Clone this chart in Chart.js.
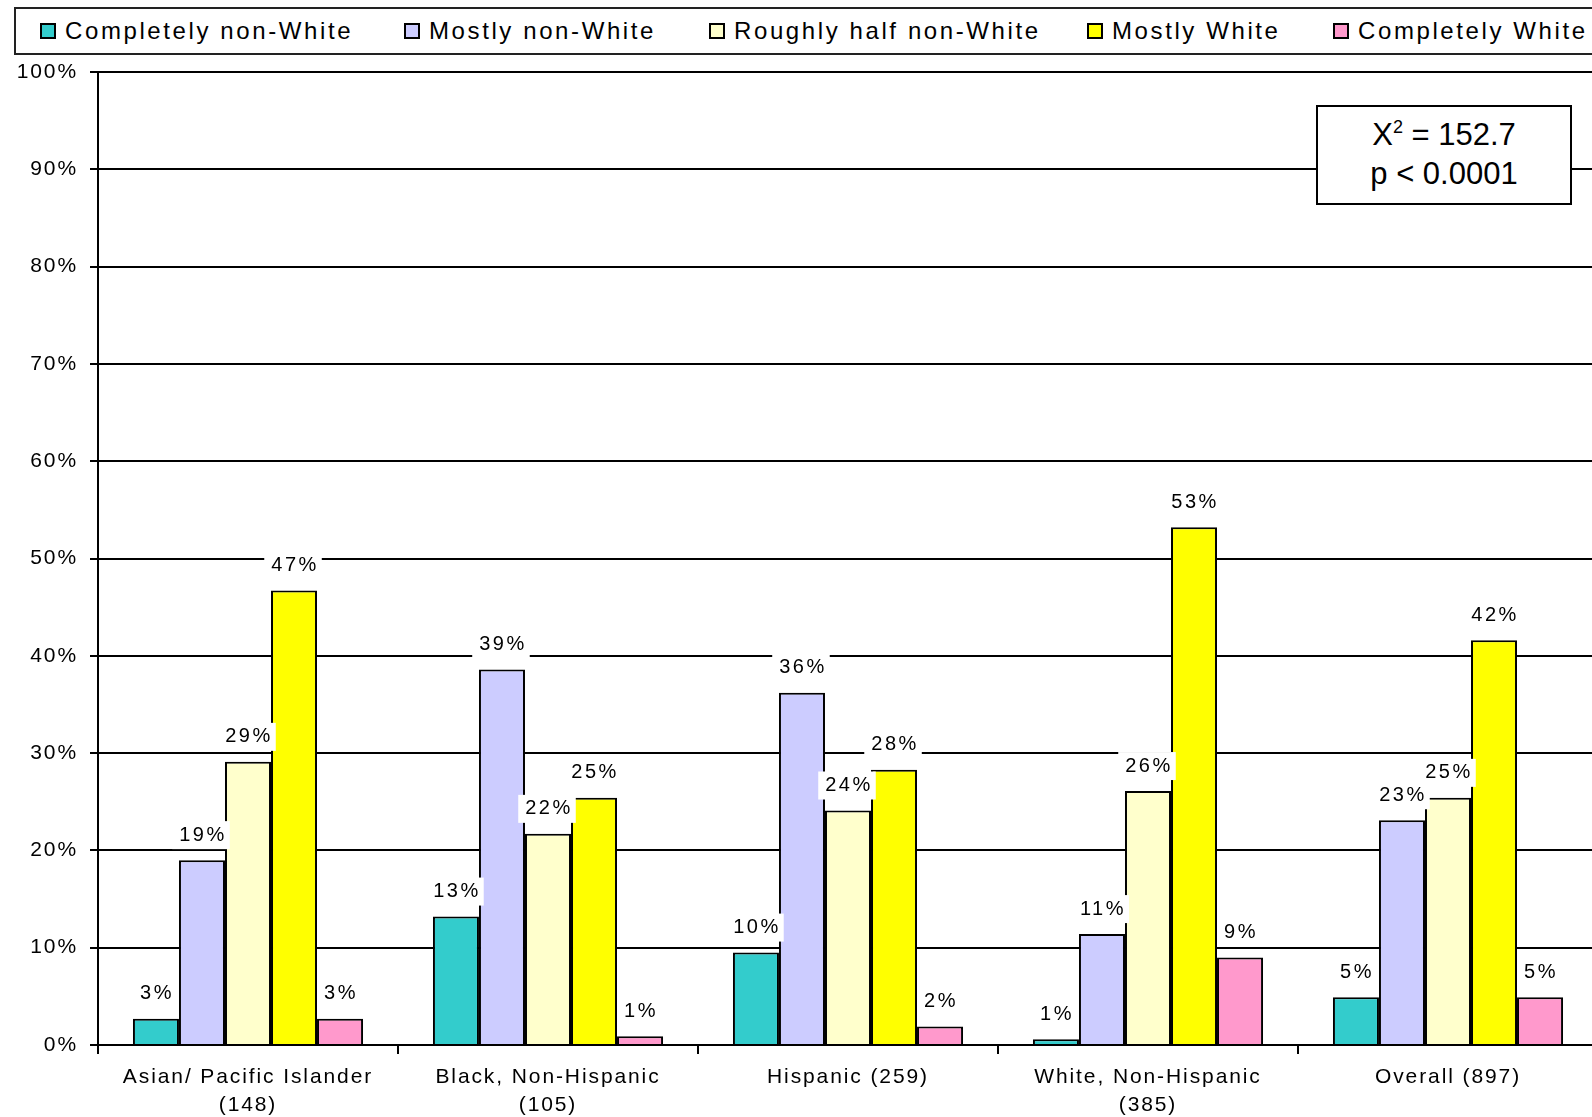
<!DOCTYPE html>
<html lang="en">
<head>
    <meta charset="UTF-8">
    <title>Neighborhood racial composition by respondent race</title>
    <script src="https://cdn.jsdelivr.net/npm/chart.js"></script>
    <style>
        body {
            margin: 0;
            padding: 0;
            background: #fff;
            overflow: hidden;
            font-family: "Liberation Sans", Arial, sans-serif;
        }
        .wrap {
            position: absolute;
            left: 0;
            top: 0;
            width: 1600px;
            height: 1117px;
        }
        .legend {
            position: absolute;
            left: 14px;
            top: 7px;
            width: 1620px;
            height: 44px;
            border: 2px solid #222;
            background: #fff;
        }
        .legend .item {
            position: absolute;
            top: 0;
            height: 44px;
            display: flex;
            align-items: center;
            font-size: 24px;
            letter-spacing: 2.6px;
            color: #000;
            white-space: nowrap;
        }
        .legend .swatch {
            width: 12px;
            height: 12px;
            border: 2px solid #000;
            margin-right: 9px;
        }
        .stat-box {
            position: absolute;
            left: 1316px;
            top: 105px;
            width: 252px;
            height: 88px;
            border: 2px solid #000;
            background: #fff;
            font-size: 31px;
            line-height: 39px;
            text-align: center;
            padding-top: 8px;
            box-sizing: content-box;
        }
        .stat-box sup { font-size: 18px; vertical-align: 12px; line-height: 0; }
    </style>
</head>
<body>
<div class="wrap">
    <canvas id="chart" width="1600" height="1117"></canvas>
    <div class="legend" id="legend"></div>
    <div class="stat-box">X<sup>2</sup> = 152.7<br>p &lt; 0.0001</div>
</div>

<script>
    // data (percent)
    const categories = [
        ['Asian/ Pacific Islander', '(148)'],
        ['Black, Non-Hispanic', '(105)'],
        'Hispanic (259)',
        ['White, Non-Hispanic', '(385)'],
        'Overall (897)'
    ];
    const seriesNames = ['Completely non-White', 'Mostly non-White', 'Roughly half non-White', 'Mostly White', 'Completely White'];
    const completelyNonWhite = [2.7, 13.2, 9.5, 0.6, 4.9];
    const mostlyNonWhite = [19.0, 38.6, 36.2, 11.4, 23.1];
    const roughlyHalfNonWhite = [29.1, 21.7, 24.1, 26.1, 25.4];
    const mostlyWhite = [46.7, 25.4, 28.3, 53.2, 41.6];
    const completelyWhite = [2.7, 0.9, 1.9, 9.0, 4.9];
    const yTicks = [0, 10, 20, 30, 40, 50, 60, 70, 80, 90, 100];

    const colors = ['#33CCCC', '#CCCCFF', '#FFFFCC', '#FFFF00', '#FF99CC'];
    const seriesValues = [completelyNonWhite, mostlyNonWhite, roughlyHalfNonWhite, mostlyWhite, completelyWhite];

    // html legend
    const legendLefts = [38, 402, 707, 1085, 1331];
    const legendEl = document.getElementById('legend');
    seriesNames.forEach((name, i) => {
        const item = document.createElement('div');
        item.className = 'item';
        item.style.left = (legendLefts[i] - 14) + 'px';
        item.innerHTML = '<span class="swatch" style="background:' + colors[i] + '"></span>' + name;
        legendEl.appendChild(item);
    });

    const AXIS_FONT = { family: '"Liberation Sans", Arial, sans-serif', size: 21, lineHeight: 1.33 };
    const SPACING = '1.9px';

    // wider text spacing like the original bitmap font
    const spacing = {
        id: 'spacing',
        beforeUpdate(chart) { chart.ctx.letterSpacing = SPACING; },
        beforeDraw(chart) { chart.ctx.letterSpacing = SPACING; }
    };

    // value labels with white boxes above each bar
    const valueLabels = {
        id: 'valueLabels',
        afterDatasetsDraw(chart) {
            const ctx = chart.ctx;
            ctx.save();
            ctx.letterSpacing = '2.5px';
            ctx.font = '20px "Liberation Sans", Arial, sans-serif';
            ctx.textAlign = 'center';
            ctx.textBaseline = 'middle';
            chart.data.datasets.forEach((ds, i) => {
                chart.getDatasetMeta(i).data.forEach((bar, j) => {
                    const txt = Math.round(ds.data[j]) + '%';
                    const w = ctx.measureText(txt).width;
                    const cy = bar.y - 25;
                    ctx.fillStyle = '#fff';
                    ctx.fillRect(bar.x - w / 2 - 6, cy - 14, w + 10, 28);
                    ctx.fillStyle = '#000';
                    ctx.fillText(txt, bar.x + 1, cy);
                });
            });
            ctx.restore();
        }
    };

    new Chart(document.getElementById('chart').getContext('2d'), {
        type: 'bar',
        data: {
            labels: categories,
            datasets: seriesNames.map((name, i) => ({
                label: name,
                data: seriesValues[i],
                backgroundColor: colors[i],
                borderColor: '#000',
                borderWidth: 2,
                barPercentage: 1,
                categoryPercentage: 0.767
            }))
        },
        options: {
            responsive: false,
            animation: false,
            layout: { padding: { top: 72, right: 2, bottom: 0, left: 0 } },
            plugins: {
                legend: { display: false },
                tooltip: { enabled: false }
            },
            scales: {
                x: {
                    afterFit(scale) { scale.height = 72; },
                    grid: {
                        offset: true,
                        drawOnChartArea: false,
                        drawTicks: true,
                        tickLength: 9,
                        color: '#000',
                        lineWidth: 2
                    },
                    border: { display: true, color: '#000', width: 2 },
                    ticks: {
                        color: '#000',
                        font: AXIS_FONT,
                        padding: 9,
                        maxRotation: 0,
                        autoSkip: false
                    }
                },
                y: {
                    min: 0,
                    max: 100,
                    afterFit(scale) { scale.width = 98; },
                    afterBuildTicks(scale) { scale.ticks = yTicks.map(v => ({ value: v })); },
                    grid: {
                        color: '#000',
                        lineWidth: 2,
                        drawTicks: true,
                        tickLength: 8
                    },
                    border: { display: true, color: '#000', width: 2 },
                    ticks: {
                        color: '#000',
                        font: AXIS_FONT,
                        padding: 12,
                        callback: v => v + '%'
                    }
                }
            }
        },
        plugins: [spacing, valueLabels]
    });
</script>
</body>
</html>
